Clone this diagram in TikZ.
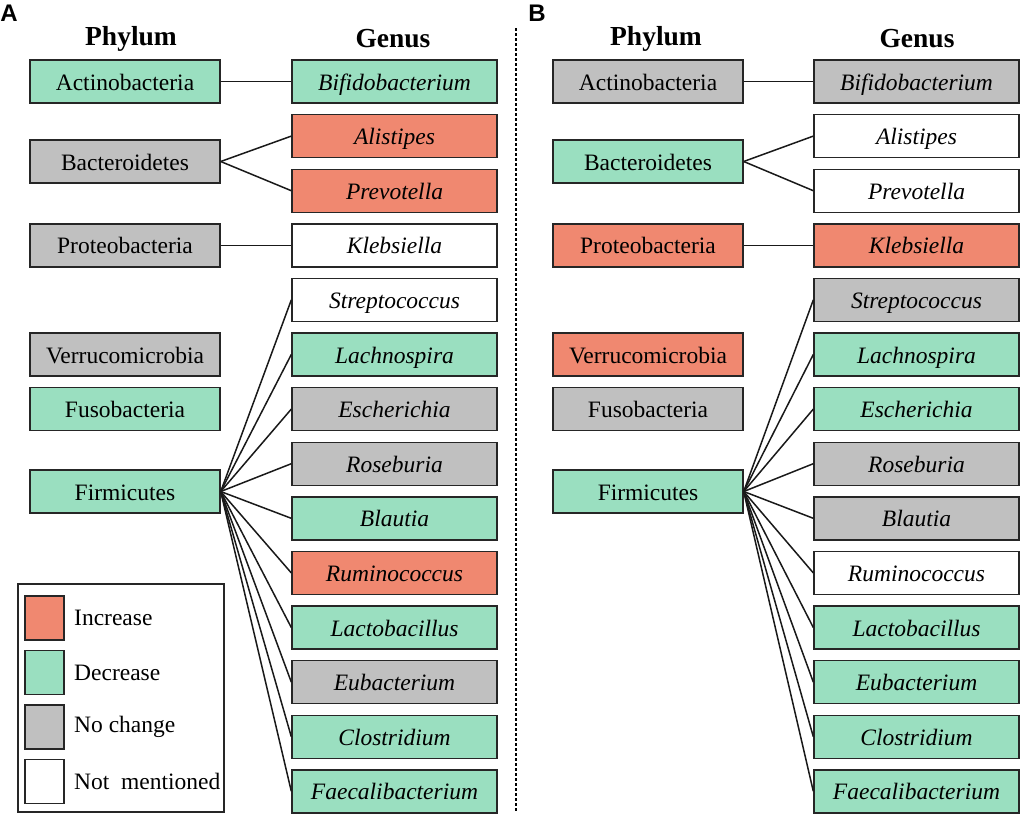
\documentclass[tikz,border=0pt]{standalone}
\usepackage{fontspec}
\setmainfont{Liberation Serif}
\newfontfamily\lettfont{Liberation Sans}
\definecolor{inc}{RGB}{240,136,112}
\definecolor{dec}{RGB}{154,223,192}
\definecolor{noc}{RGB}{192,192,192}
\begin{document}
\begin{tikzpicture}[x=1pt,y=-1pt,
  box/.style={draw=black!85,line width=1.4pt,inner sep=0pt,minimum height=43pt,text height=17pt,text depth=0pt,font=\fontsize{23.5}{25}\selectfont},
  phy/.style={box,minimum width=190pt},
  gen/.style={box,minimum width=205pt,font=\fontsize{23.5}{25}\selectfont\itshape},
  lnk/.style={line width=1.5pt,black!90},
  hdr/.style={font=\fontsize{27.5}{29}\selectfont\bfseries},
  lett/.style={font=\fontsize{24}{26}\selectfont\lettfont\bfseries},
  legt/.style={anchor=west,inner sep=0pt,font=\fontsize{23.5}{25}\selectfont},
  sw/.style={draw=black!85,line width=1.4pt,minimum width=39pt,minimum height=44pt,inner sep=0pt}
]
\useasboundingbox (0,0) rectangle (1024,817);
% ---------- Panel A ----------
\node[lett] (LA) at (9,13) {A};
\node[hdr] (PhA) at (131,39) {Phylum};
\node[hdr] (GeA) at (393,39) {Genus};
\node[phy,fill=dec] (aActi) at (125,81.5) {Actinobacteria};
\node[phy,fill=noc] (aBact) at (125,161.5) {Bacteroidetes};
\node[phy,fill=noc] (aProt) at (125,245.3) {Proteobacteria};
\node[phy,fill=noc] (aVerr) at (125,354.5) {Verrucomicrobia};
\node[phy,fill=dec] (aFuso) at (125,409.1) {Fusobacteria};
\node[phy,fill=dec] (aFirm) at (125,491.5) {Firmicutes};
\node[gen,fill=dec] (aG0) at (394.5,81.5) {Bifidobacterium};
\node[gen,fill=inc] (aG1) at (394.5,136.1) {Alistipes};
\node[gen,fill=inc] (aG2) at (394.5,190.7) {Prevotella};
\node[gen,fill=white] (aG3) at (394.5,245.3) {Klebsiella};
\node[gen,fill=white] (aG4) at (394.5,299.9) {Streptococcus};
\node[gen,fill=dec] (aG5) at (394.5,354.5) {Lachnospira};
\node[gen,fill=noc] (aG6) at (394.5,409.1) {Escherichia};
\node[gen,fill=noc] (aG7) at (394.5,463.7) {Roseburia};
\node[gen,fill=dec] (aG8) at (394.5,518.3) {Blautia};
\node[gen,fill=inc] (aG9) at (394.5,572.9) {Ruminococcus};
\node[gen,fill=dec] (aG10) at (394.5,627.5) {Lactobacillus};
\node[gen,fill=noc] (aG11) at (394.5,682.1) {Eubacterium};
\node[gen,fill=dec] (aG12) at (394.5,736.7) {Clostridium};
\node[gen,fill=dec] (aG13) at (394.5,791.3) {Faecalibacterium};
\draw[lnk] (aActi.east) -- (aG0.west);
\draw[lnk] (aBact.east) -- (aG1.west);
\draw[lnk] (aBact.east) -- (aG2.west);
\draw[lnk] (aProt.east) -- (aG3.west);
\foreach \i in {4,...,13} \draw[lnk] (aFirm.east) -- (aG\i.west);
% legend
\node[draw=black!85,line width=1.4pt,minimum width=206pt,minimum height=228pt,inner sep=0pt] (leg) at (121,698) {};
\node[sw,fill=inc] (s1) at (44.5,618) {};
\node[sw,fill=dec] (s2) at (44.5,672.5) {};
\node[sw,fill=noc] (s3) at (44.5,727) {};
\node[sw,fill=white] (s4) at (44.5,781.5) {};
\node[legt] (t1) at (74,618) {Increase};
\node[legt] (t2) at (74,672.5) {Decrease};
\node[legt] (t3) at (74,727) {No change};
\node[legt] (t4) at (74,781.5) {Not\ \ mentioned};
% divider
\coordinate (d1) at (516,28);
\coordinate (d2) at (516,812);
\draw[line width=1.1pt,dash pattern=on 3pt off 2pt] (d1) -- (d2);
% ---------- Panel B ----------
\node[lett] (LB) at (537,13) {B};
\node[hdr] (PhB) at (656,39) {Phylum};
\node[hdr] (GeB) at (917,39) {Genus};
\node[phy,fill=noc] (bActi) at (648,81.5) {Actinobacteria};
\node[phy,fill=dec] (bBact) at (648,161.5) {Bacteroidetes};
\node[phy,fill=inc] (bProt) at (648,245.3) {Proteobacteria};
\node[phy,fill=inc] (bVerr) at (648,354.5) {Verrucomicrobia};
\node[phy,fill=noc] (bFuso) at (648,409.1) {Fusobacteria};
\node[phy,fill=dec] (bFirm) at (648,491.5) {Firmicutes};
\node[gen,fill=noc] (bG0) at (916.5,81.5) {Bifidobacterium};
\node[gen,fill=white] (bG1) at (916.5,136.1) {Alistipes};
\node[gen,fill=white] (bG2) at (916.5,190.7) {Prevotella};
\node[gen,fill=inc] (bG3) at (916.5,245.3) {Klebsiella};
\node[gen,fill=noc] (bG4) at (916.5,299.9) {Streptococcus};
\node[gen,fill=dec] (bG5) at (916.5,354.5) {Lachnospira};
\node[gen,fill=dec] (bG6) at (916.5,409.1) {Escherichia};
\node[gen,fill=noc] (bG7) at (916.5,463.7) {Roseburia};
\node[gen,fill=noc] (bG8) at (916.5,518.3) {Blautia};
\node[gen,fill=white] (bG9) at (916.5,572.9) {Ruminococcus};
\node[gen,fill=dec] (bG10) at (916.5,627.5) {Lactobacillus};
\node[gen,fill=dec] (bG11) at (916.5,682.1) {Eubacterium};
\node[gen,fill=dec] (bG12) at (916.5,736.7) {Clostridium};
\node[gen,fill=dec] (bG13) at (916.5,791.3) {Faecalibacterium};
\draw[lnk] (bActi.east) -- (bG0.west);
\draw[lnk] (bBact.east) -- (bG1.west);
\draw[lnk] (bBact.east) -- (bG2.west);
\draw[lnk] (bProt.east) -- (bG3.west);
\foreach \i in {4,...,13} \draw[lnk] (bFirm.east) -- (bG\i.west);
\end{tikzpicture}
\end{document}
